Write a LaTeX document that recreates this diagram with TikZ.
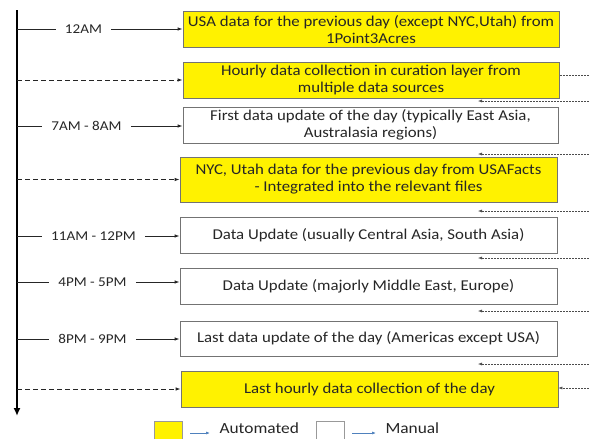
\documentclass[tikz,border=0pt]{standalone}
\usepackage{fontspec}
\setmainfont{Carlito}[FakeStretch=1.12]
\usetikzlibrary{arrows.meta}
\definecolor{keyblue}{HTML}{4F81BD}

\begin{document}
\begin{tikzpicture}[x=1pt,y=-1pt,
		databox/.style={draw=black!55, line width=0.8pt, minimum width=376pt, minimum height=36pt, inner sep=0pt, align=center, font=\fontsize{15}{17}\selectfont, text=black!85},
		autobox/.style={databox, fill=yellow},
		manualbox/.style={databox, fill=white},
		timelabel/.style={inner xsep=9pt, inner ysep=0pt, font=\fontsize{13.5}{15}\selectfont, text=black!85},
		tick/.style={line width=0.9pt, draw=black!85},
		push/.style={line width=0.9pt, draw=black!85, -{Latex[length=5pt,width=3.5pt]}},
		hourly/.style={push, dash pattern=on 5pt off 3pt},
		feedback/.style={line width=0.5pt, draw=black!70, densely dotted, -{Latex[length=4pt,width=3pt]}},
		keyarrow/.style={line width=0.7pt, draw=keyblue, -{Latex[length=4pt,width=3pt]}, shorten <=8pt, shorten >=6pt},
		keybox/.style={draw=black!40, line width=0.6pt, minimum width=28pt, minimum height=20pt, inner sep=0pt}
	]
		\useasboundingbox (0,0) rectangle (589,439);
		
		%%%%% TIMELINE %%%%%
		\coordinate (tl-top) at (17,10);
		\coordinate (tl-end) at (17,416);
		\draw[line width=2.6pt, -{Latex[length=8pt,width=7pt]}] (tl-top) -- (tl-end);
		
		%%%%% BOXES %%%%%
		\node[autobox] (usa) at (371,29.5) {USA data for the previous day (except NYC,Utah) from\\1Point3Acres};
		\node[autobox] (hourly1) at (371,80) {Hourly data collection in curation layer from\\multiple data sources};
		\node[manualbox, minimum width=375pt] (first) at (370.5,125) {First data update of the day (typically East Asia,\\Australasia regions)};
		\node[autobox, minimum width=377pt, minimum height=45pt] (nyc) at (368.5,179.5) {NYC, Utah data for the previous day from USAFacts\\- Integrated into the relevant files};
		\node[manualbox, minimum width=377pt] (central) at (368.5,235) {Data Update (usually Central Asia, South Asia)};
		\node[manualbox, minimum width=377pt] (mideast) at (368.5,286) {Data Update (majorly Middle East, Europe)};
		\node[manualbox, minimum width=377pt, minimum height=35pt] (americas) at (368.5,338.5) {Last data update of the day (Americas except USA)};
		\node[autobox, minimum width=377pt] (lasthourly) at (369.5,389) {Last hourly data collection of the day};
		
		%%%%% TIMES %%%%%
		\node[timelabel] (t-12am) at (83.5,29) {12AM};
		\draw[tick] (t-12am -| tl-top) -- (t-12am.west);
		\draw[push] (t-12am.east) -- (t-12am -| usa.west);
		
		\draw[hourly] (hourly1 -| tl-top) -- (hourly1.west);
		
		\node[timelabel] (t-7am) at (86.5,126) {7AM - 8AM};
		\draw[tick] (t-7am -| tl-top) -- (t-7am.west);
		\draw[push] (t-7am.east) -- (t-7am -| first.west);
		
		\draw[hourly] (nyc -| tl-top) -- (nyc.west);
		
		\node[timelabel] (t-11am) at (93.5,236) {11AM - 12PM};
		\draw[tick] (t-11am -| tl-top) -- (t-11am.west);
		\draw[push] (t-11am.east) -- (t-11am -| central.west);
		
		\node[timelabel] (t-4pm) at (92.5,282) {4PM - 5PM};
		\draw[tick] (t-4pm -| tl-top) -- (t-4pm.west);
		\draw[push] (t-4pm.east) -- (t-4pm -| mideast.west);
		
		\node[timelabel] (t-8pm) at (92.5,339) {8PM - 9PM};
		\draw[tick] (t-8pm -| tl-top) -- (t-8pm.west);
		\draw[push] (t-8pm.east) -- (t-8pm -| americas.west);
		
		\draw[hourly] (lasthourly -| tl-top) -- (lasthourly.west);
		
		%%%%% FEEDS FROM THE RIGHT %%%%%
		\coordinate (in-hourly) at (590,75);
		\draw[feedback, arrows=-] (in-hourly) -- (in-hourly -| hourly1.east);
		\foreach \y in {101,154,211,258,311,364}{
			\coordinate (in-\y) at (590,\y);
			\draw[feedback] (in-\y) -- ++(-112,0);
		}
		\coordinate (in-last) at (590,388);
		\draw[feedback] (in-last) -- (in-last -| lasthourly.east);
		
		%%%%% LEGEND %%%%%
		\node[keybox, fill=yellow] (key-auto) at (168,431) {};
		\node[anchor=base west, font=\fontsize{15.5}{18}\selectfont, text=black!85] (key-auto-txt) at (216,433) {Automated};
		\draw[keyarrow] (key-auto.east |- key-auto-txt.base west) -- (key-auto-txt.base west);
		
		\node[keybox, fill=white] (key-man) at (330,431) {};
		\node[anchor=base west, font=\fontsize{15.5}{18}\selectfont, text=black!85] (key-man-txt) at (382,433) {Manual};
		\draw[keyarrow] (key-man.east |- key-man-txt.base west) -- (key-man-txt.base west);
	\end{tikzpicture}
\end{document}
